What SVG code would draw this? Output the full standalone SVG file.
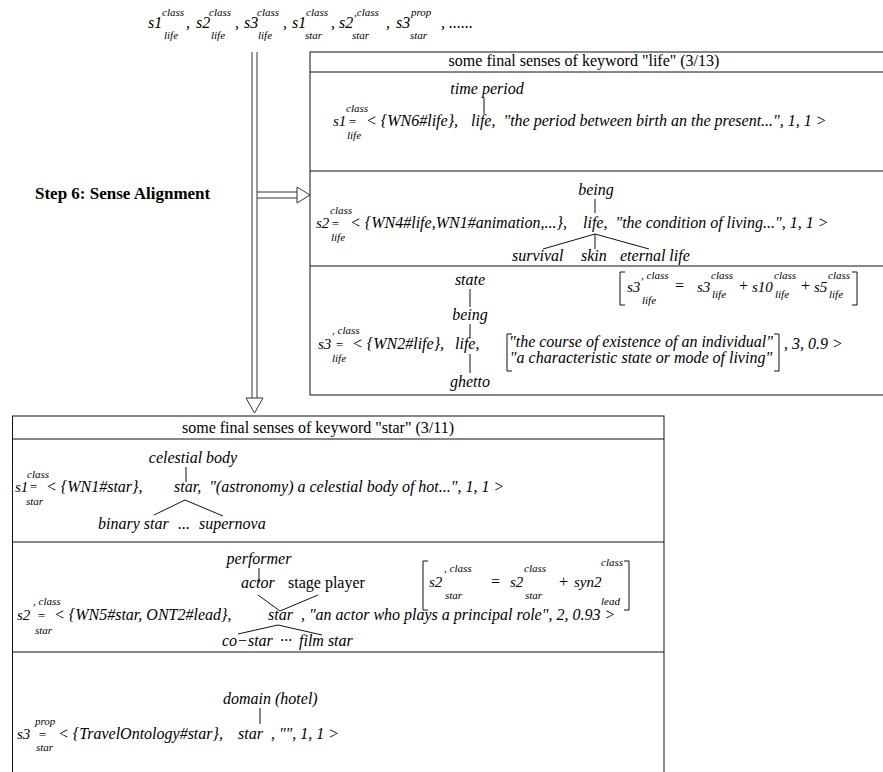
<svg xmlns="http://www.w3.org/2000/svg" width="883" height="772" viewBox="0 0 883 772">
  <style>
    text { font-family: "Liberation Serif", "Times New Roman", serif; fill: #000; }
    .it { font-size: 16px; font-style: italic; }
    .rm { font-size: 16px; }
    .nm { font-size: 15px; font-style: italic; }
    .top { font-size: 16px; font-style: italic; }
    .sc { font-size: 11px; font-style: italic; }
    .eq { font-size: 13px; font-style: italic; }
    .bold { font-size: 17px; font-weight: bold; }
    .ln { stroke: #111; stroke-width: 1; fill: none; }
    .box { stroke: #111; stroke-width: 1; fill: #fff; }
    .arw { stroke: #333; stroke-width: 1; fill: #fff; }
  </style>

  <rect width="883" height="772" fill="#fff"/>

  <!-- candidate senses listed at the top -->
  <g id="sense-list">
    <text class="top" x="148" y="28">s1</text><text class="sc" x="162" y="16">class</text><text class="sc" x="164" y="39">life</text><text class="it" x="186" y="28">,</text>
    <text class="top" x="196" y="28">s2</text><text class="sc" x="209" y="16">class</text><text class="sc" x="211" y="39">life</text><text class="it" x="235" y="28">,</text>
    <text class="top" x="244" y="28">s3</text><text class="sc" x="257" y="16">class</text><text class="sc" x="258" y="39">life</text><text class="it" x="283" y="28">,</text>
    <text class="top" x="292" y="28">s1</text><text class="sc" x="306" y="16">class</text><text class="sc" x="305" y="39">star</text><text class="it" x="331" y="28">,</text>
    <text class="top" x="339" y="28">s2</text><text class="sc" x="354" y="16">,class</text><text class="sc" x="352" y="39">star</text><text class="it" x="386" y="28">,</text>
    <text class="top" x="396" y="28">s3</text><text class="sc" x="411" y="16">prop</text><text class="sc" x="410" y="39">star</text><text class="it" x="441" y="28">, ......</text>
  </g>

  <g id="step-label">
    <text class="bold" x="35" y="199">Step 6: Sense Alignment</text>
  </g>

  <!-- flow arrows (double shafts with hollow heads) -->
  <g id="connectors">
    <line class="arw" x1="252" y1="52" x2="252" y2="398"/>
    <line class="arw" x1="257" y1="52" x2="257" y2="398"/>
    <polygon class="arw" points="246,398 263,398 254.5,413"/>
    <line class="arw" x1="257" y1="192" x2="297" y2="192"/>
    <line class="arw" x1="257" y1="198" x2="297" y2="198"/>
    <polygon class="arw" points="297,187 297,203 310,195"/>
  </g>

  <!-- final senses of "life" -->
  <g id="life-senses">
    <rect class="box" x="310" y="52" width="590" height="343"/>
    <line class="ln" x1="310" y1="72" x2="900" y2="72"/>
    <line class="ln" x1="310" y1="171" x2="900" y2="171"/>
    <line class="ln" x1="310" y1="266" x2="900" y2="266"/>
    <text class="rm" x="584" y="66" text-anchor="middle">some final senses of keyword "life" (3/13)</text>
  </g>

  <g id="life-s1">
    <text class="it" x="487" y="94" text-anchor="middle">time period</text>
    <line class="ln" x1="484" y1="98" x2="484" y2="114"/>
    <text class="nm" x="333" y="126">s1</text><text class="sc" x="346" y="112">class</text><text class="eq" x="348" y="126">=</text><text class="sc" x="347" y="139">life</text>
    <text class="it" x="366" y="126">&lt; {WN6#life},</text>
    <text class="it" x="471" y="126" xml:space="preserve">life,  "the period between birth an the present...", 1, 1 &gt;</text>
  </g>

  <g id="life-s2">
    <text class="it" x="596" y="195" text-anchor="middle">being</text>
    <line class="ln" x1="595" y1="199" x2="595" y2="213"/>
    <text class="nm" x="316" y="228">s2</text><text class="sc" x="330" y="214">class</text><text class="eq" x="331" y="228">=</text><text class="sc" x="331" y="241">life</text>
    <text class="it" x="350" y="228">&lt; {WN4#life,WN1#animation,...},</text>
    <text class="it" x="583" y="228" xml:space="preserve">life,  "the condition of living...", 1, 1 &gt;</text>
    <path class="ln" d="M595,234 L543,249 M595,234 L595,249 M595,234 L649,249"/>
    <text class="it" x="512" y="261">survival</text>
    <text class="it" x="581" y="261">skin</text>
    <text class="it" x="620" y="261">eternal life</text>
  </g>

  <g id="life-s3">
    <text class="it" x="470" y="285" text-anchor="middle">state</text>
    <line class="ln" x1="470" y1="289" x2="470" y2="307"/>
    <text class="it" x="470" y="320" text-anchor="middle">being</text>
    <line class="ln" x1="470" y1="324" x2="470" y2="338"/>
    <line class="ln" x1="470" y1="354" x2="470" y2="373"/>
    <text class="it" x="470" y="387" text-anchor="middle">ghetto</text>
    <text class="nm" x="318" y="349">s3</text><text class="sc" x="332" y="334">, class</text><text class="eq" x="335" y="349">=</text><text class="sc" x="332" y="362">life</text>
    <text class="it" x="352" y="349">&lt; {WN2#life},</text>
    <text class="it" x="455" y="349">life,</text>
    <path class="ln" d="M512,334 H507 V371 H512"/>
    <text class="it" x="641" y="347" text-anchor="middle">"the course of existence of an individual"</text>
    <text class="it" x="641" y="363" text-anchor="middle">"a characteristic state or mode of living"</text>
    <path class="ln" d="M774,334 H779 V371 H774"/>
    <text class="it" x="784" y="349">, 3, 0.9 &gt;</text>
    <!-- merged sense -->
    <path class="ln" d="M625,272 H620 V305 H625"/>
    <text class="nm" x="627" y="292">s3</text><text class="sc" x="641" y="279">, class</text><text class="sc" x="642" y="304">life</text>
    <text class="it" x="674" y="291">=</text>
    <text class="nm" x="697" y="292">s3</text><text class="sc" x="711" y="279">class</text><text class="sc" x="712" y="298">life</text>
    <text class="it" x="738" y="291">+</text>
    <text class="nm" x="752" y="292">s10</text><text class="sc" x="774" y="279">class</text><text class="sc" x="775" y="298">life</text>
    <text class="it" x="800" y="291">+</text>
    <text class="nm" x="814" y="292">s5</text><text class="sc" x="828" y="279">class</text><text class="sc" x="829" y="298">life</text>
    <path class="ln" d="M852,272 H857 V305 H852"/>
  </g>

  <!-- final senses of "star" -->
  <g id="star-senses">
    <rect class="box" x="12.5" y="416" width="651.5" height="370"/>
    <line class="ln" x1="12.5" y1="439" x2="664" y2="439"/>
    <line class="ln" x1="12.5" y1="542" x2="664" y2="542"/>
    <line class="ln" x1="12.5" y1="652" x2="664" y2="652"/>
    <text class="rm" x="318" y="433" text-anchor="middle">some final senses of keyword "star" (3/11)</text>
  </g>

  <g id="star-s1">
    <text class="it" x="193" y="463" text-anchor="middle">celestial body</text>
    <line class="ln" x1="186" y1="467" x2="186" y2="482"/>
    <text class="nm" x="15" y="492">s1</text><text class="sc" x="27" y="478">class</text><text class="eq" x="29" y="491">=</text><text class="sc" x="26" y="505">star</text>
    <text class="it" x="46" y="492">&lt; {WN1#star},</text>
    <text class="it" x="174" y="492" xml:space="preserve">star,  "(astronomy) a celestial body of hot...", 1, 1 &gt;</text>
    <path class="ln" d="M185,500 L154,515 M185,500 L223,516"/>
    <text class="it" x="98" y="529">binary star</text>
    <text class="it" x="178" y="529">...</text>
    <text class="it" x="199" y="529">supernova</text>
  </g>

  <g id="star-s2">
    <text class="it" x="259" y="564" text-anchor="middle">performer</text>
    <line class="ln" x1="259" y1="568" x2="259" y2="583"/>
    <text class="it" x="241" y="588">actor</text>
    <text class="rm" x="288" y="588">stage player</text>
    <path class="ln" d="M258,595 L280,611 L318,595"/>
    <text class="nm" x="17" y="620">s2</text><text class="sc" x="33" y="605">, class</text><text class="eq" x="37" y="620">=</text><text class="sc" x="35" y="634">star</text>
    <text class="it" x="54" y="620">&lt; {WN5#star, ONT2#lead},</text>
    <text class="it" x="268" y="620" xml:space="preserve">star  , "an actor who plays a principal role", 2, 0.93 &gt;</text>
    <path class="ln" d="M278,625 L238,634 M278,625 L322,635"/>
    <text class="it" x="222" y="646">co−star</text>
    <text class="it" x="280" y="646">···</text>
    <text class="it" x="299" y="646">film star</text>
    <!-- merged sense -->
    <path class="ln" d="M428,561 H423 V610 H428"/>
    <text class="nm" x="429" y="587">s2</text><text class="sc" x="444" y="572">, class</text><text class="sc" x="445" y="599">star</text>
    <text class="it" x="490" y="587">=</text>
    <text class="nm" x="510" y="587">s2</text><text class="sc" x="524" y="572">class</text><text class="sc" x="525" y="599">star</text>
    <text class="it" x="558" y="587">+</text>
    <text class="nm" x="574" y="587">syn2</text><text class="sc" x="601" y="566">class</text><text class="sc" x="601" y="605">lead</text>
    <path class="ln" d="M624,561 H629 V610 H624"/>
  </g>

  <g id="star-s3">
    <text class="it" x="223" y="704">domain (hotel)</text>
    <line class="ln" x1="260" y1="708" x2="260" y2="724"/>
    <text class="nm" x="17" y="739">s3</text><text class="sc" x="35" y="725">prop</text><text class="eq" x="38" y="739">=</text><text class="sc" x="36" y="751">star</text>
    <text class="it" x="58" y="739">&lt; {TravelOntology#star},</text>
    <text class="it" x="238" y="739" xml:space="preserve">star  , "", 1, 1 &gt;</text>
  </g>
</svg>
